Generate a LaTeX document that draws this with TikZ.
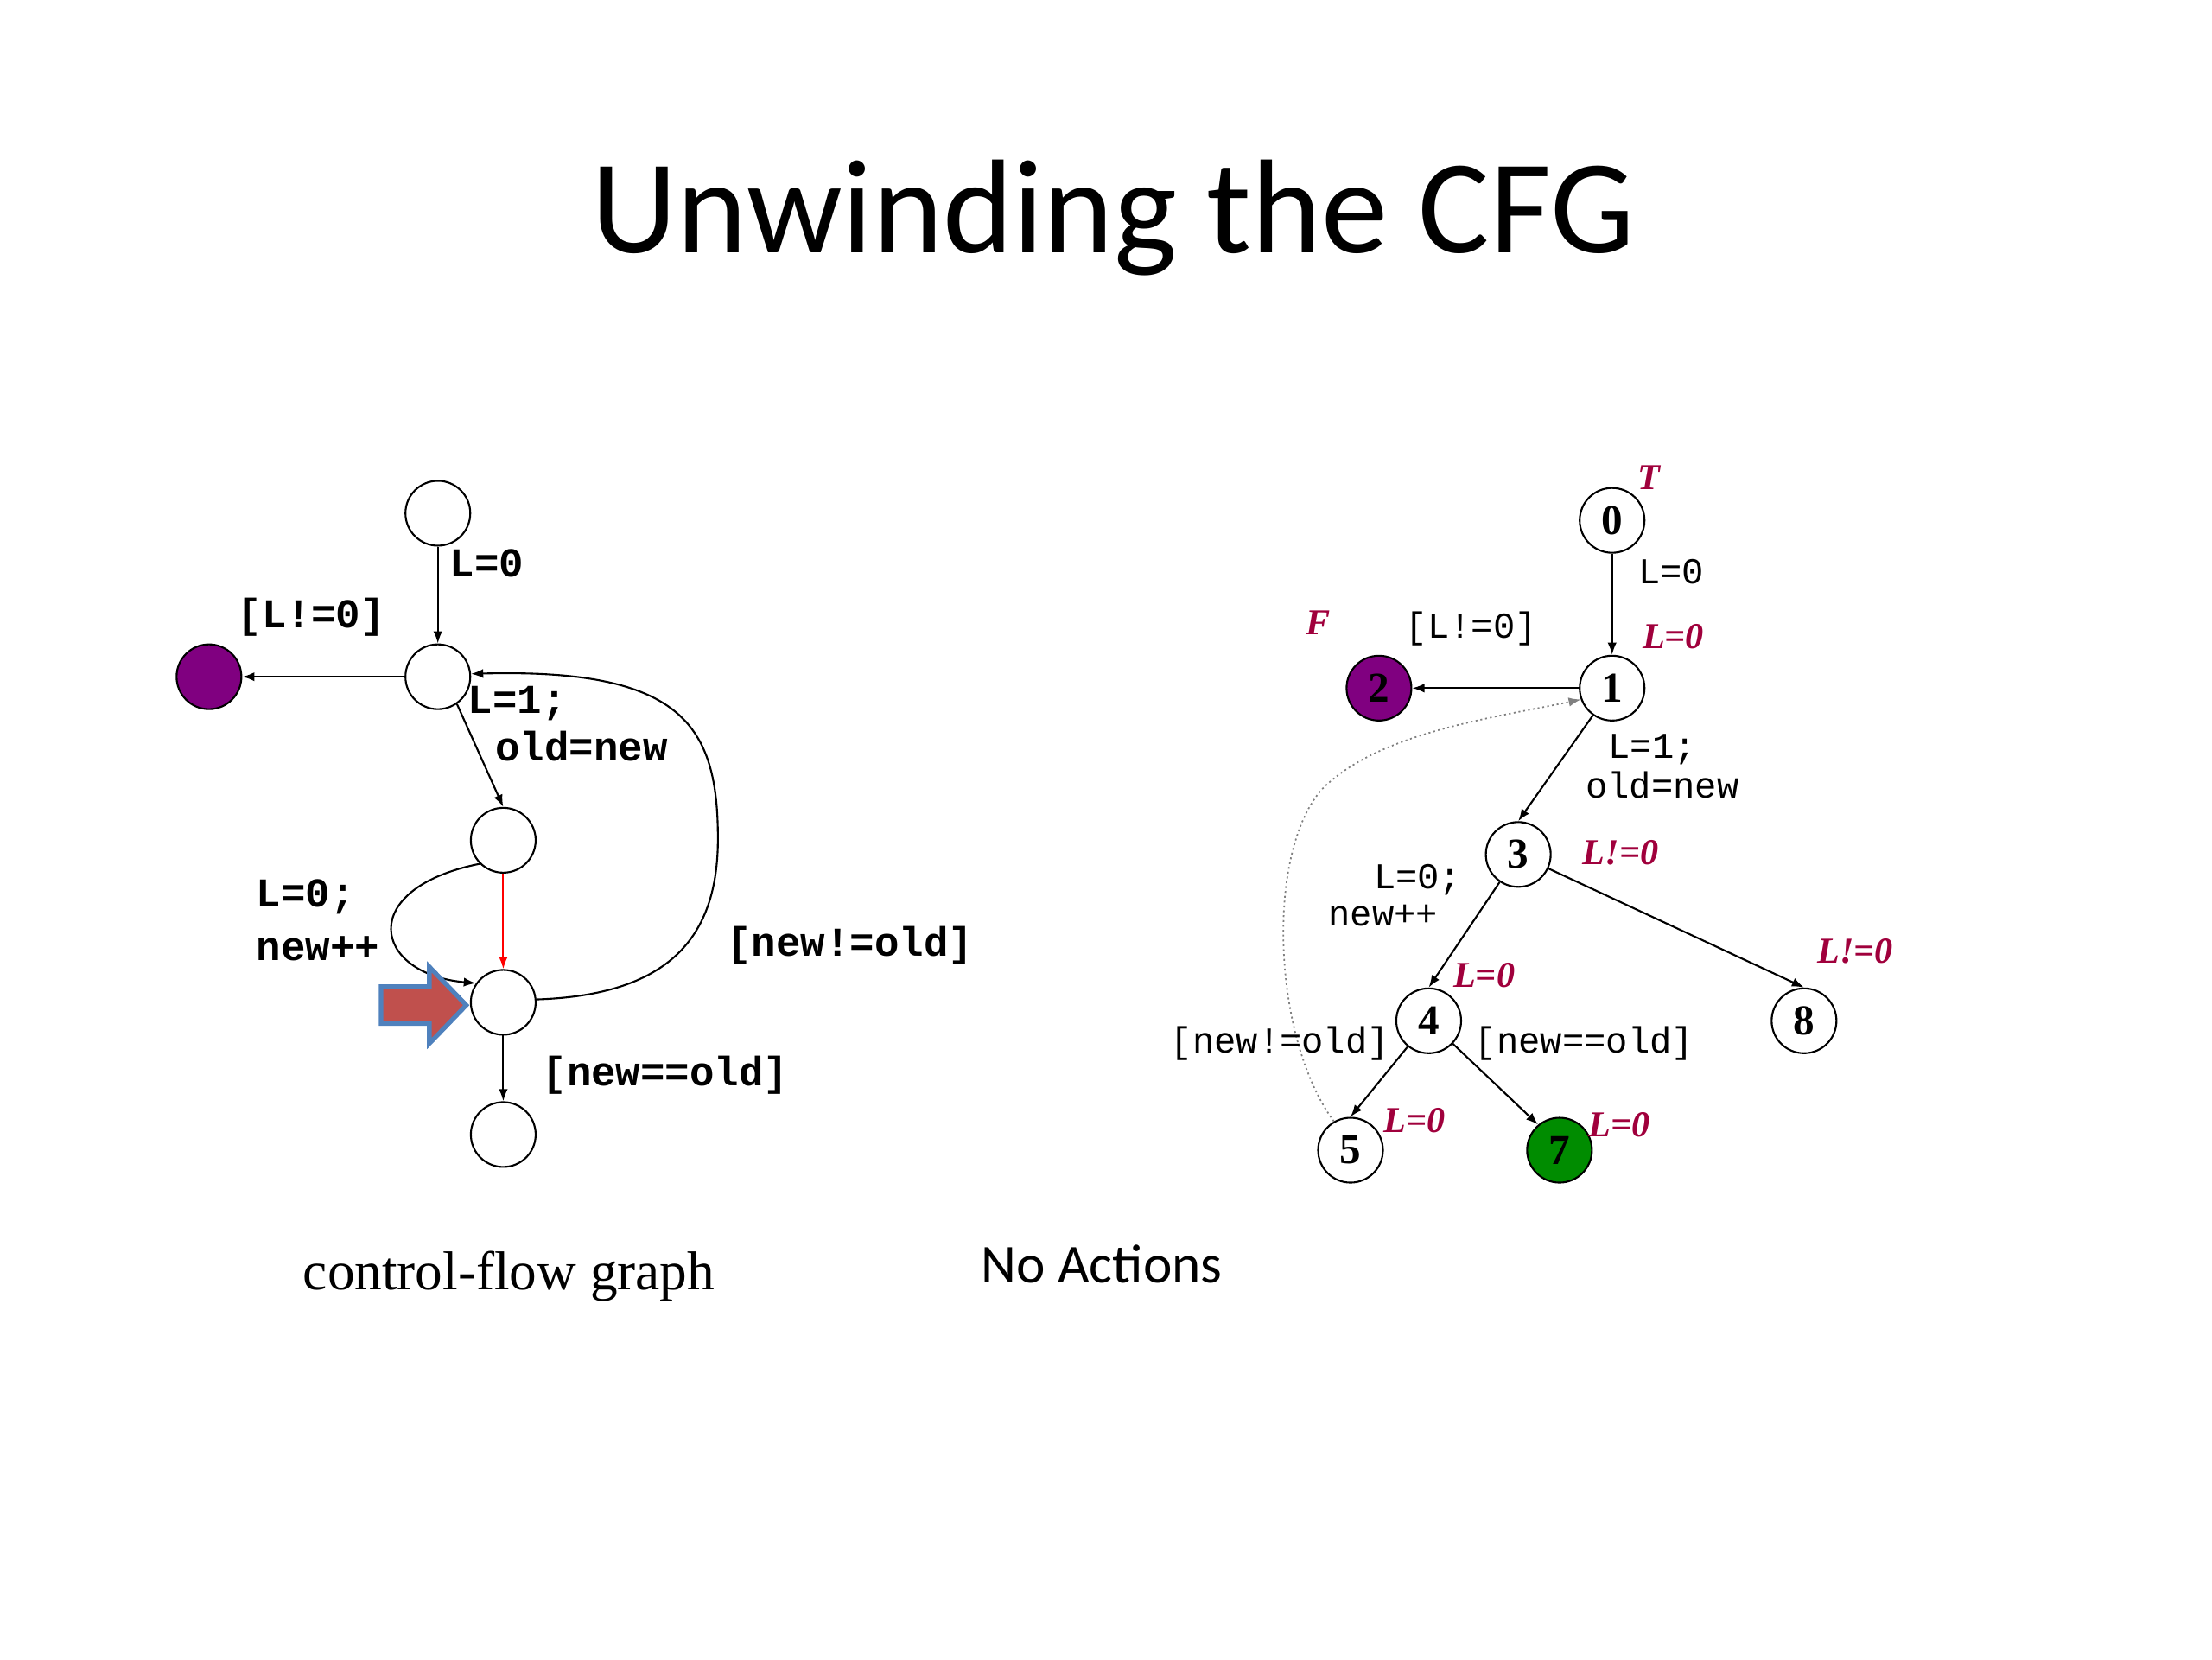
\documentclass[tikz,border=0pt]{standalone}
\usepackage{fontspec}
\setmainfont{Carlito}
\newfontfamily\cour{Liberation Mono}
\newfontfamily\tms{Liberation Serif}
\usetikzlibrary{arrows.meta}
\definecolor{cfgpurple}{RGB}{128,0,128}
\definecolor{cfggreen}{RGB}{0,140,0}
\definecolor{labred}{RGB}{160,0,60}
\definecolor{arrred}{RGB}{192,80,77}
\definecolor{arrblue}{RGB}{79,129,189}

\begin{document}
\begin{tikzpicture}[x=0.01645cm,y=-0.01645cm,
  st/.style={circle,draw,line width=0.6pt,minimum size=0.75cm,inner sep=0pt},
  ed/.style={-{Latex[length=4pt,width=3pt]},line width=0.6pt},
  cf/.style={font=\cour\bfseries\fontsize{13.5}{14}\selectfont,inner sep=0pt},
  rf/.style={font=\cour\fontsize{12}{13}\selectfont,inner sep=0pt},
  num/.style={st,font=\tms\bfseries\fontsize{14}{15}\selectfont},
  lab/.style={font=\tms\bfseries\itshape\fontsize{12}{13}\selectfont,text=labred,inner sep=0pt}]
\useasboundingbox (0,0) rectangle (1556,1167.2);
\node[font=\fontsize{44}{48}\selectfont,anchor=base] (title) at (783,178) {Unwinding the CFG};

%control-flow graph
\node[st] (a0) at (308,361) {};
\node[st] (a1) at (308,476) {};
\node[st,fill=cfgpurple] (ap) at (147,476) {};
\node[st] (a2) at (354,591) {};
\node[st] (a3) at (354,705) {};
\node[st] (a4) at (354,798) {};
\draw[ed] (a0) -- (a1);
\draw[ed] (a1) -- (ap);
\draw[ed] (a1.-55) -- (a2.north);
\draw[ed,red] (a2) -- (a3);
\draw[ed] (a2.-135) .. controls (250,625) and (262,685) .. (a3.145);
\draw[ed] (a3.5) .. controls (470,700) and (505,660) .. (505,590) .. controls (505,510) and (480,470) .. (a1.5);
\draw[ed] (a3) -- (a4);
\node[cf,anchor=west] (la0) at (316,396) {L=0};
\node[cf] (lan) at (219,434) {[L!=0]};
\node[cf,anchor=west] (la1) at (329,495) {L=1;};
\node[cf,anchor=west] (la2) at (348,525) {old=new};
\node[cf,anchor=west] (la3) at (180,631) {L=0;};
\node[cf,anchor=west] (la4) at (180,667) {new++};
\node[cf,anchor=west] (la5) at (511,665) {[new!=old]};
\node[cf,anchor=west] (la6) at (381,756) {[new==old]};
\filldraw[fill=arrred,draw=arrblue,line width=1.5pt] (268,694) -- (302,694) -- (302,680) -- (328,707) -- (302,734) -- (302,720) -- (268,720) -- cycle;
\node[font=\tms\fontsize{18}{20}\selectfont] (cap1) at (358,898) {control-flow graph};
\node[font=\fontsize{18}{20}\selectfont] (cap2) at (775,889) {No Actions};

%unwinding
\node[num] (n0) at (1134,366) {0};
\node[num] (n1) at (1134,484) {1};
\node[num,fill=cfgpurple] (n2) at (970,484) {2};
\node[num] (n3) at (1068,601) {3};
\node[num] (n4) at (1005,718) {4};
\node[num] (n8) at (1269,718) {8};
\node[num] (n5) at (950,809) {5};
\node[num,fill=cfggreen] (n7) at (1097,809) {7};
\draw[ed] (n0) -- (n1);
\draw[ed] (n1) -- (n2);
\draw[ed] (n1) -- (n3.north);
\draw[ed] (n3) -- (n4.north);
\draw[ed] (n3) -- (n8.north);
\draw[ed] (n4) -- (n5.north);
\draw[ed] (n4) -- (n7.130);
\draw[ed,densely dotted,gray,line width=0.5pt] (n5.120) .. controls (895,730) and (890,600) .. (930,555) .. controls (970,515) and (1050,505) .. (n1.200);
\node[rf,anchor=west] (lb0) at (1152,402) {L=0};
\node[rf] (lbn) at (1035,442) {[L!=0]};
\node[rf,anchor=west] (lb1) at (1131,527) {L=1;};
\node[rf,anchor=west] (lb2) at (1115,552) {old=new};
\node[rf,anchor=west] (lb3) at (966,619) {L=0;};
\node[rf,anchor=west] (lb4) at (934,644) {new++};
\node[rf,anchor=west] (lb5) at (823,734) {[new!=old]};
\node[rf,anchor=west] (lb6) at (1037,734) {[new==old]};
\node[lab] (r0) at (1160,336) {T};
\node[lab] (r1) at (927,438) {F};
\node[lab] (r2) at (1177,448) {L=0};
\node[lab] (r3) at (1140,600) {L!=0};
\node[lab] (r4) at (1305,669) {L!=0};
\node[lab] (r5) at (1044,686) {L=0};
\node[lab] (r6) at (995,788) {L=0};
\node[lab] (r7) at (1139,791) {L=0};
\end{tikzpicture}
\end{document}
